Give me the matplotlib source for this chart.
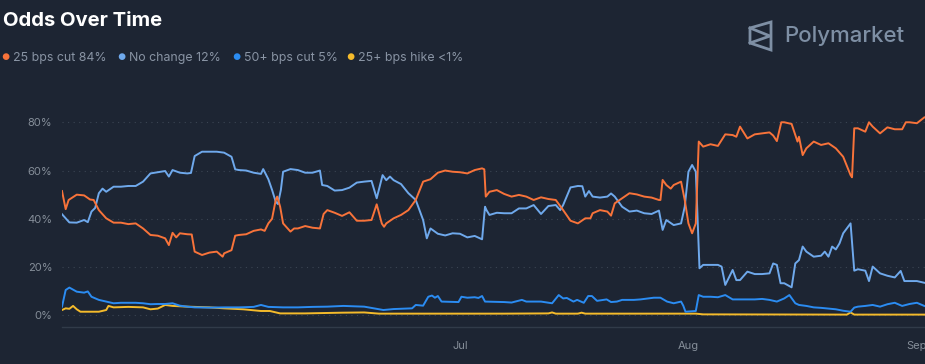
import datetime
import matplotlib
matplotlib.use("Agg")
from matplotlib import pyplot as plt
from matplotlib import dates as mdates
from matplotlib.lines import Line2D
from matplotlib.patches import Polygon

# series data: day offset from start date -> probability (%)
start = datetime.datetime(2024, 5, 8)

cut25_days = [0, 0.5, 0.9, 2, 3, 3.8, 4.3, 5, 6, 7, 8, 9, 10, 11, 12, 13, 14, 14.5, 15, 15.5, 16, 17, 17.6, 18, 19, 20,
              21, 21.8, 22, 23, 23.5, 24, 25, 26, 27, 27.5, 28, 28.5, 29, 29.2, 29.6, 30, 31, 31.5, 32, 33, 34, 35, 35.5,
              36, 37, 38, 39, 40, 41, 42, 42.7, 43.4, 43.7, 44, 45, 46, 47, 48, 49, 50, 51, 52, 53, 54, 55, 56, 57,
              57.3, 57.5, 58, 59, 60, 61, 62, 63, 64, 65, 66, 67, 68, 69, 70, 71, 71.7, 72, 73, 74, 74.5, 75, 76, 77,
              78, 79, 80, 81, 81.2, 81.5, 82, 82.6, 83, 84, 84.5, 85, 85.5, 86, 86.4, 87, 88, 89, 90, 91, 91.5, 92,
              93, 94, 95, 96, 96.5, 97, 97.6, 98, 99, 99.8, 100, 100.5, 101, 102, 103, 104, 105, 106, 107, 107.2,
              107.5, 108, 109, 109.5, 110, 111, 112, 113, 114, 114.5, 115, 116, 117]
cut25_vals = [51.5, 44, 47.8, 50, 49.7, 48, 47.8, 43.6, 40.2, 38.4, 38.4, 37.8, 38.1, 36, 33.3, 33, 31.9, 29.1, 34.2,
              32.3, 34, 33.6, 33.5, 26.4, 25, 26,
              26.4, 24.3, 25.7, 27, 33, 33.3, 33.6, 35, 35.6, 35, 38.1, 40, 47.8, 49.2, 45, 38.1, 34.7, 36, 36, 37,
              36.3, 36, 42,
              43.6, 42.5, 41.2, 42.7, 39.2, 39.2, 39.5, 46, 38, 36.7, 38.1, 40.2, 41.6, 43.6, 47.8, 55.4, 56.4, 59.1,
              60, 59.5, 59.3, 58.8, 60.2, 60.9,
              60.5, 49.2, 51.2, 51.9, 50.3, 49.2, 49.9, 49.2, 47.8, 48.9, 48.2, 47.8, 43.6, 39.2, 38.1, 40.2, 40.2,
              42.3, 43.6, 43, 41.3, 46.4, 48.5, 50.6,
              50.1, 49.2, 48.8, 47.8, 47.8, 56.1, 54, 52.5, 54, 55.4, 47.8, 38.1, 34, 38.1, 72, 69.9, 70.9, 70.2, 75,
              74.7, 74, 78.2,
              73.3, 75, 75.4, 75.8, 74.5, 72.2, 80, 80, 79.3, 72, 74, 66.4, 69.2, 72, 70.6, 71.3, 69.2, 65.7, 58.1,
              57.2,
              77.5, 77.5, 76.1, 80, 78.2, 75.4, 77.9, 77.1, 77.1, 80, 80, 79.6, 82]

nochange_days = [0, 1, 2, 3, 3.5, 4, 4.5, 5, 5.5, 6, 7, 8, 9, 10, 11, 12, 13, 14, 14.5, 15, 16, 17, 17.5, 18, 19, 20,
                 21, 22, 23, 23.5, 24, 25, 26, 27, 27.3, 28, 28.5, 29, 29.3, 29.7, 30, 31, 32, 33, 34, 35, 35.3, 36,
                 37, 38, 39, 40, 41, 42, 42.7, 43.5, 44, 44.5, 45, 46, 47, 48, 49, 49.5, 50, 51, 52, 53, 54, 55, 56,
                 57, 57.4, 57.6, 58, 59, 60, 61, 62, 63, 64, 65, 66, 67, 67.6, 68, 69, 70, 70.6, 71, 71.5, 72, 73, 74,
                 74.5, 75, 76, 77, 78, 79, 80, 81, 81.5, 82, 83, 84, 84.5, 85, 85.5, 86, 86.5, 87, 88, 89, 89.5, 90,
                 91, 91.5, 92, 93, 94, 95, 96, 96.5, 97, 97.5, 98, 99, 99.5, 100, 100.5, 101, 102, 103, 103.5, 104,
                 104.5, 105, 105.5, 106, 107, 107.5, 108, 109, 109.5, 110, 111, 112, 113, 113.8, 114.3, 115, 116, 117]
nochange_vals = [41.9, 38.5, 38.4, 39.5, 38.6, 43, 44.5, 50.6, 52.5, 51.2, 53.3, 53.3, 53.6, 53.6, 55.4, 58.8, 59.3,
                 59.8, 57.5, 60.2, 59.1, 58.8, 59, 66, 67.8, 67.8,
                 67.8, 67.4, 65.7, 60.5, 60.2, 60, 59.1, 58.6, 60.6, 56.4, 52, 47.1, 46.1, 52, 59.5, 60.6, 60.2, 59.1,
                 59.1, 60, 54, 53.6,
                 51.7, 51.9, 52.9, 55, 55.4, 55.7, 48.5, 58.1, 56, 57.5, 56, 54.4, 50.6, 47.8, 39.5, 31.9, 36, 33.8,
                 33.1, 34, 33.8, 32.3, 32.9,
                 31.5, 45, 43.6, 41.6, 42.5, 42.3, 42.3, 44.3, 44.3, 45.7, 42, 45.3, 45.7, 43.6, 45.7, 53, 53.6, 53.5,
                 49.2, 51.5, 49.2, 48.8, 49.2,
                 50.5, 49.2, 45, 43, 43.4, 42.3, 42, 43.4, 35.4, 39.5, 37.4, 38.1, 45, 59.5, 62.3, 59.5, 19.5, 20.9,
                 20.9, 20.9, 20.2, 12.6,
                 18.8, 14.6, 14.6, 18.1, 17.1, 17.1, 17.4, 21.5, 20.9, 13.3, 13.3, 11.6, 21.5, 22.9, 28.5, 26.4, 24.3,
                 24.7, 26.4, 24.3,
                 28.5, 27.3, 29.8, 34, 38.1, 18.5, 19.1, 18.5, 14.2, 20.2, 17.4, 16.4, 15.7, 18.4, 14.2, 14.2, 14.2, 13.5]

cut50_days = [0, 0.5, 1, 2, 3, 3.5, 4, 5, 6, 7, 8, 9, 10, 11, 12, 13, 14, 15, 16, 17, 18, 20, 22, 24, 26, 27, 28, 30,
              32, 34, 36, 38.2, 40, 41, 42.5, 43.6, 45, 47.5, 48, 49, 49.7, 50.2, 50.6, 51, 51.5, 53.8, 54.2, 55, 56,
              56.5, 57, 57.4, 60, 61, 62.4, 63, 65, 66.5, 67.4, 68, 68.5, 69.4, 69.9, 70.8, 71.4, 71.9, 72.6, 73.9,
              74.5, 75.3, 76, 77.6, 78.5, 80.3, 81.2, 82.1, 83, 84, 84.3, 84.6, 86, 86.4, 87, 88, 89, 90, 91, 92, 93,
              94, 95, 96, 97, 98, 98.7, 99.5, 100, 101, 102, 103, 104, 105, 106, 107, 107.5, 108, 109, 110, 111, 112,
              113, 114, 115, 116, 117]
cut50_vals = [3.6, 10.5, 11.5, 9.8, 9.4, 9.9, 7.7, 6.4, 5.7, 5, 5.2, 5.2, 5.2, 5, 4.6, 4.7, 4.7, 5, 4, 3.6, 3.3, 3.2,
              3.3, 3.3, 3.5, 4.3, 3.5, 3.3,
              3.3, 3.5, 3.6, 3.9, 3.7, 3.6, 2.8, 2.2, 2.6, 2.9, 4.3, 4, 7.7, 8.2, 7.3, 8, 5.7, 5.5, 7.7, 7.3, 7.5,
              7.2, 8, 5.7, 5.5, 5.3, 6.4, 5.7, 5.7, 5, 8.4, 7, 7.2, 5.7, 6.4, 5.2, 8, 8, 6, 6.6,
              5.5, 5.7, 6.4, 6.4, 6.6, 7.3, 7.3, 5.7, 5, 5.7, 4, 1.5, 1.8, 8.4, 7.7, 7.7, 7.5, 8.4, 6.6, 6.6, 6.6,
              6.6, 6.8, 6.4, 5.7, 7, 8.4, 5, 4.3, 3.9, 3.3, 3.1, 2.8, 2.5, 1.9, 1.5, 3.2, 3.6, 3.9, 4.3, 3.6, 4.6,
              5.2, 3.9, 4.7, 5.2, 3.9]

hike_days = [0, 0.5, 1, 1.5, 2, 2.5, 5, 6, 6.3, 7, 9, 11, 12, 13, 14, 15, 17, 20, 22, 24.6, 27, 28.2, 29.6, 33, 38, 41,
             43, 60, 66, 66.5, 67, 70, 70.5, 71, 86, 87, 106.5, 107, 107.5, 117]
hike_vals = [2.2, 2.9, 2.7, 3.9, 2.5, 1.5, 1.5, 2.2, 3.9, 3.3, 3.5, 3.3, 2.5, 2.8, 4.3, 3.9, 3.6, 3.3, 2.9, 2.5, 1.8,
             1.8, 0.8, 0.8, 1.1, 1.2, 0.7, 0.7, 0.8, 1.2, 0.7, 0.7, 1.1, 0.7, 0.7, 0.4, 0.3, 1.2, 0.3, 0.3]

labels = ["25 bps cut 84%", "No change 12%", "50+ bps cut 5%", "25+ bps hike <1%"]
colors = ["#F8733A", "#6FA9EC", "#2B8CF2", "#F5BB2B"]

bg = "#1D2533"
grey = "#858E99"

plt.rcParams['font.family'] = ['Inter', 'DejaVu Sans']

fig = plt.figure(figsize=(9.25, 3.64), dpi=100, facecolor=bg)
W, H = 925, 364
ax = fig.add_axes((62 / W, (H - 327.4) / H, (W - 62) / W, (327.4 - 110.2) / H))
ax.set_facecolor(bg)


def to_dates(days):
    return [start + datetime.timedelta(days=d) for d in days]


series = [(cut25_days, cut25_vals), (nochange_days, nochange_vals), (cut50_days, cut50_vals), (hike_days, hike_vals)]
for (d, v), c in reversed(list(zip(series, colors))):
    ax.plot(to_dates(d), v, color=c, lw=1.4, solid_joinstyle='round')

ax.set_ylim(-5, 85)
ax.set_xlim(start, start + datetime.timedelta(days=117.1))
ax.set_yticks([0, 20, 40, 60, 80])
ax.set_yticklabels(["0%", "20%", "40%", "60%", "80%"])
ax.yaxis.grid(True, color="#3B4553", lw=0.8, linestyle=(0, (1, 4)))
ax.set_axisbelow(True)
ax.xaxis.set_major_locator(mdates.MonthLocator(bymonth=[7, 8, 9]))
ax.xaxis.set_major_formatter(mdates.DateFormatter('%b'))
ax.tick_params(axis='both', length=0, colors=grey, labelsize=8)
ax.tick_params(axis='y', pad=7)
ax.tick_params(axis='x', pad=10)
for s in ['top', 'right', 'left']:
    ax.spines[s].set_visible(False)
ax.spines['bottom'].set_color("#313B49")
ax.spines['bottom'].set_linewidth(1)

# title
fig.text(3 / W, 1 - 21 / H, "Odds Over Time", color="white", fontsize=14.6, fontweight='bold', va='center', ha='left')

# legend row
leg_x = [5, 121, 236, 350]
for x, lab, c in zip(leg_x, labels, colors):
    fig.text(x / W, 1 - 57.5 / H, "\u25CF", color=c, fontsize=6.5, va='center', ha='center')
    fig.text((x + 8) / W, 1 - 57.5 / H, lab, color="#8994A4", fontsize=8.9, va='center', ha='left')

# Polymarket logo
lc = "#7E8FA4"
pts = [(750, 28), (771, 22), (771, 50), (750, 43)]
fig.patches.append(Polygon([(x / W, 1 - y / H) for x, y in pts], closed=True, fill=False, edgecolor=lc, lw=2,
                           transform=fig.transFigure, joinstyle='miter'))
fig.lines.append(Line2D([750 / W, 770 / W, 750 / W], [1 - 28 / H, 1 - 36 / H, 1 - 43 / H], color=lc, lw=2,
                        transform=fig.transFigure))
fig.text(784 / W, 1 - 36 / H, "Polymarket", color=lc, fontsize=16, fontweight='medium', va='center', ha='left')

fig.savefig("out.png", dpi=100, facecolor=bg)
